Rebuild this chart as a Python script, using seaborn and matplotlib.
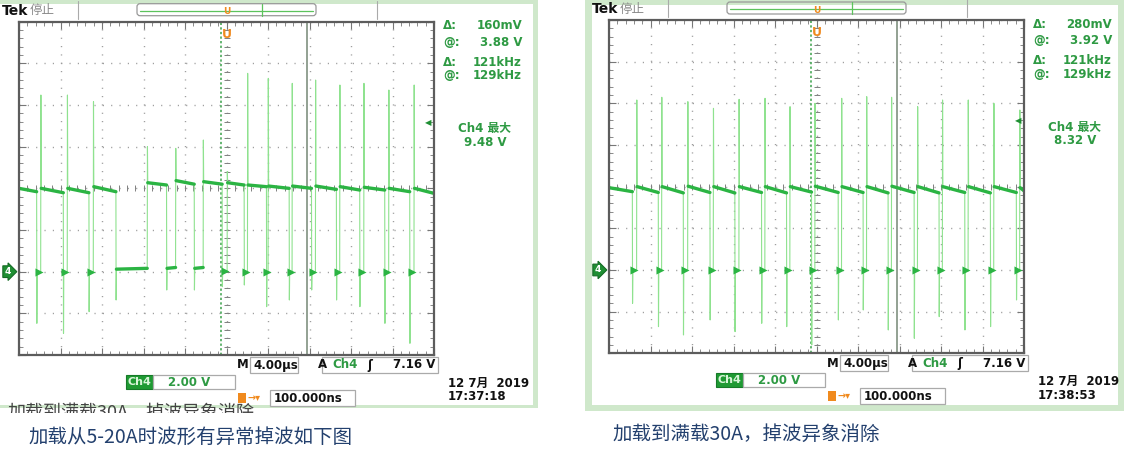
import numpy as np
import pandas as pd
import matplotlib
matplotlib.use('Agg')
import matplotlib.pyplot as plt
import matplotlib.patches as mpatches
import matplotlib.transforms as mtransforms
from matplotlib.ticker import MultipleLocator
import seaborn as sns

sns.set_theme(style='white')
plt.rcParams['font.family'] = ['DejaVu Sans', 'Noto Sans CJK SC']

# scope settings shown on both captures
TIME_DIV = '4.00µs'
VOLT_DIV = '2.00 V'
TRIG_LEVEL = 7.16          # V, trigger level arrow
TRIG_TEXT = '7.16 V'
TRIG_POS = '100.000ns'
DATE = '12 7月  2019'
CURSOR_A = -0.51           # us, dotted cursor
CURSOR_B = 7.75            # us, solid cursor (129kHz)

# left capture: 5-20A load, dropped pulses (time in us, volts above Ch4 ground)
L_FALL = [-18.30, -15.73, -13.26, -10.66, -5.78, -3.11, -0.42, 1.70,
          3.85, 6.04, 8.19, 10.59, 12.84, 15.25, 17.66]
L_RISE = [-17.91, -15.35, -12.84, -7.64, -4.91, -2.25, 0.06, 2.02,
          4.01, 6.32, 8.57, 10.91, 13.23, 15.63, 18.07]
L_TROUGH = [-2.48, -2.96, -1.92, -1.36, -0.88, -0.88, -0.72, -0.64,
            -1.68, -1.36, -0.88, -1.36, -1.68, -2.48, -3.44]
L_PEAK = [8.48, 8.48, 8.16, 6.00, 5.92, 6.32, 4.80, 9.52,
          9.28, 9.04, 9.20, 8.96, 9.04, 8.72, 8.96]
L_GND = [0, 0, 0, 0.12, 0.16, 0.16, 0.05, 0, 0, 0, 0, 0, 0, 0, 0]
L_HI0 = [4.00, 4.00, 4.00, 4.08, 4.27, 4.37, 4.32, 4.27, 4.16, 4.11,
         4.11, 4.11, 4.08, 4.05, 4.00, 4.00]
L_HI1 = [3.84, 3.79, 3.79, 3.84, 4.16, 4.20, 4.20, 4.16, 4.08, 4.00,
         4.00, 3.95, 3.92, 3.92, 3.84, 3.76]
L_READ = ['160mV', '3.88 V', '121kHz', '129kHz']
L_MAX = '9.48 V'
L_CLOCK = '17:37:18'
L_CAPTION = '加载从5-20A时波形有异常掉波如下图'

# right capture: full 30A load, regular switching
R_FALL = [-17.75, -15.25, -12.84, -10.27, -7.87, -5.30, -2.89, -0.48,
          2.09, 4.49, 6.90, 9.41, 11.81, 14.29, 16.76, 19.26]
R_RISE = [-17.34, -14.93, -12.42, -9.95, -7.48, -4.98, -2.57, -0.16,
          2.41, 4.82, 7.22, 9.73, 12.13, 14.61, 17.08, 19.58]
R_TROUGH = [-1.60, -2.72, -3.12, -2.40, -2.96, -2.56, -2.72, -3.60,
            -2.40, -1.92, -2.88, -3.28, -2.24, -2.88, -2.72, -1.44]
R_PEAK = [8.16, 8.29, 8.08, 7.76, 8.19, 8.24, 7.84, 8.00,
          8.24, 8.32, 8.29, 7.84, 8.16, 8.16, 8.00, 7.68]
R_GND = [0] * 16
R_HI0 = [3.95, 4.00, 4.00, 4.02, 4.00, 4.00, 4.00, 4.00, 4.02, 4.00,
         4.00, 4.02, 4.00, 4.00, 4.00, 4.00, 3.95]
R_HI1 = [3.76, 3.72, 3.70, 3.72, 3.70, 3.72, 3.70, 3.74, 3.72, 3.72,
         3.70, 3.72, 3.70, 3.72, 3.70, 3.72, 3.80]
R_READ = ['280mV', '3.92 V', '121kHz', '129kHz']
R_MAX = '8.32 V'
R_CLOCK = '17:38:53'
R_CAPTION = '加载到满载30A，掉波异象消除'

FW, FH = 1124, 455
BORDER = '#cfe8cb'
TRACE = '#2bb443'
SPIKE = '#8fe28f'
GRID = '#9a9a9a'
READ = '#2e9a43'
CAP = '#23406e'
CJK = ['Noto Sans CJK SC', 'DejaVu Sans']


def build_trace(fall, rise, trough, peak, gnd, hi0, hi1):
    t, v = [-20.0], [hi0[0]]
    for i in range(len(fall)):
        t += [fall[i], fall[i] + 0.02, fall[i] + 0.05, rise[i], rise[i] + 0.02, rise[i] + 0.05]
        v += [hi1[i], trough[i], gnd[i], gnd[i], peak[i], hi0[i + 1]]
    t.append(20.0)
    v.append(hi1[-1])
    thin = pd.DataFrame({'t': t, 'v': v})

    # dwell segments drawn bold: high level, and the long ground stretches
    rows = []
    starts = [-20.0] + [r + 0.05 for r in rise]
    ends = list(fall) + [20.0]
    for k, (a, b) in enumerate(zip(starts, ends)):
        rows += [(k, a, hi0[k]), (k, b, hi1[k])]
    blobs = []
    for i in range(len(fall)):
        if rise[i] - fall[i] > 0.6:
            rows += [(100 + i, fall[i] + 0.05, gnd[i]), (100 + i, rise[i], gnd[i] + 0.04)]
        else:
            blobs.append((0.5 * (fall[i] + rise[i]), gnd[i]))
    bold = pd.DataFrame(rows, columns=['seg', 't', 'v'])
    blob = pd.DataFrame(blobs, columns=['t', 'v'])
    return thin, bold, blob


def box(bg, x, y, w, h):
    bg.add_patch(mpatches.Rectangle((x, y), w, h, fc='white', ec='#aaaaaa', lw=0.9))


def draw_scope(fig, bg, gx, gy, data, read, vmax, clock):
    W, H = 415, 333.3
    ax = fig.add_axes([gx / FW, 1 - (gy + H) / FH, W / FW, H / FH], zorder=3)
    ax.set_facecolor('none')

    thin, bold, blob = build_trace(*data)
    ax.set_xlim(-20, 20)
    ax.set_ylim(-4, 12)
    ax.xaxis.set_major_locator(MultipleLocator(4))
    ax.xaxis.set_minor_locator(MultipleLocator(0.8))
    ax.yaxis.set_major_locator(MultipleLocator(2))
    ax.yaxis.set_minor_locator(MultipleLocator(0.4))
    ax.grid(True, which='major', color=GRID, lw=1.0, linestyle=(0, (0.8, 5.2)))
    ax.tick_params(which='both', direction='in', top=True, right=True, bottom=True, left=True,
                   labelbottom=False, labelleft=False, color='#777777')
    ax.tick_params(which='major', length=5, width=0.8)
    ax.tick_params(which='minor', length=3, width=0.6)
    for s in ax.spines.values():
        s.set_visible(True)
        s.set_color('#5c5c5c')
        s.set_linewidth(1.6)

    # centre cross with minor ticks
    mx = np.arange(-20, 20.01, 0.8)
    ax.plot(mx, np.full_like(mx, 4.0), ls='none', marker='|', ms=5, mew=0.7, color='#808080')
    my = np.arange(-4, 12.01, 0.4)
    ax.plot(np.zeros_like(my), my, ls='none', marker='_', ms=5, mew=0.7, color='#808080')

    ax.axvline(CURSOR_A, color='#3aa04a', lw=1.1, ls=(0, (1.5, 1.5)))
    ax.axvline(CURSOR_B, color='#8a9a8a', lw=1.3)

    sns.lineplot(data=thin, x='t', y='v', ax=ax, sort=False, estimator=None,
                 color=SPIKE, lw=0.8, legend=False)
    sns.lineplot(data=bold, x='t', y='v', units='seg', ax=ax, sort=False, estimator=None,
                 color=TRACE, lw=2.4, legend=False)
    sns.scatterplot(data=blob, x='t', y='v', ax=ax, marker='>', s=34, color=TRACE,
                    linewidth=0, legend=False, zorder=4)
    ax.set_xlabel('')
    ax.set_ylabel('')

    xa = mtransforms.blended_transform_factory(ax.transAxes, ax.transData)
    ya = mtransforms.blended_transform_factory(ax.transData, ax.transAxes)
    ax.text(-0.028, 0, '4', transform=xa, ha='center', va='center', color='white',
            fontsize=6.5, weight='bold', clip_on=False,
            bbox=dict(boxstyle='rarrow,pad=0.15', fc='#1f8f33', ec='#156b25', lw=0.8))
    ax.text(0.985, TRIG_LEVEL, '◀', transform=xa, ha='center', va='center',
            color='#1f8f33', fontsize=6)
    ax.text(0, 0.963, 'U', transform=ya, ha='center', va='center', color='#f08a1e',
            fontsize=9, weight='bold')
    ax.text(0, 1.03, 'U', transform=ya, ha='center', va='center', color='#f08a1e',
            fontsize=6.5, weight='bold', clip_on=False)

    # top status bar
    bg.text(gx - 17, gy - 11, 'Tek', fontsize=10, weight='bold', color='#111111', va='center')
    bg.text(gx + 11, gy - 11, '停止', fontsize=9, color='#8a8a8a', va='center')
    bg.plot([gx + 59] * 2, [gy - 21, gy - 3], color='#aaaaaa', lw=0.8)
    bg.plot([gx + 358] * 2, [gy - 21, gy - 3], color='#aaaaaa', lw=0.8)
    bg.add_patch(mpatches.FancyBboxPatch((gx + 118, gy - 18), 179, 12,
                                         boxstyle='round,pad=0,rounding_size=3',
                                         fc='none', ec='#999999', lw=0.9))
    bg.plot([gx + 121, gx + 294], [gy - 11, gy - 11], color='#5cc35c', lw=0.9)
    bg.plot([gx + 243] * 2, [gy - 18, gy - 6], color='#5cc35c', lw=0.9)

    # cursor readouts
    for y, lab, val in zip([gy + 4, gy + 21, gy + 41, gy + 54], ['Δ:', '@:', 'Δ:', '@:'], read):
        bg.text(gx + 424, y, lab, color=READ, fontsize=8.5, weight='bold', va='center')
        bg.text(gx + 503, y, val, color=READ, fontsize=8.5, weight='bold', va='center', ha='right')
    bg.text(gx + 466, gy + 107, 'Ch4 最大', color=READ, fontsize=8.5, weight='bold',
            va='center', ha='center')
    bg.text(gx + 466, gy + 121, vmax, color=READ, fontsize=8.5, weight='bold',
            va='center', ha='center')

    # bottom status bar
    gb = gy + H
    txt = dict(fontsize=8.5, weight='bold', va='center', color='#111111')
    bg.text(gx + 218, gb + 10, 'M', **txt)
    box(bg, gx + 231, gb + 2, 48, 16)
    bg.text(gx + 234, gb + 10, TIME_DIV, **txt)
    bg.text(gx + 299, gb + 10, 'A', **txt)
    box(bg, gx + 303, gb + 2, 116, 16)
    bg.text(gx + 313, gb + 10, 'Ch4', **{**txt, 'color': READ})
    bg.text(gx + 348, gb + 10, 'ʃ', **txt)
    bg.text(gx + 416, gb + 10, TRIG_TEXT, ha='right', **txt)
    bg.add_patch(mpatches.Rectangle((gx + 107, gb + 20), 27, 14, fc='#1f9a33', ec='#167a28', lw=0.8))
    bg.text(gx + 120.5, gb + 27, 'Ch4', ha='center', **{**txt, 'color': '#d8f5d8', 'fontsize': 8})
    box(bg, gx + 134, gb + 20, 82, 14)
    bg.text(gx + 149, gb + 27, VOLT_DIV, **{**txt, 'color': READ})
    bg.add_patch(mpatches.Rectangle((gx + 219, gb + 38), 8, 10, fc='#f08a1e', ec='none'))
    bg.text(gx + 228, gb + 43, '→▾', **{**txt, 'color': '#f08a1e', 'fontsize': 7})
    box(bg, gx + 251, gb + 35, 85, 16)
    bg.text(gx + 255, gb + 43, TRIG_POS, **txt)
    bg.text(gx + 429, gb + 28, DATE, **txt)
    bg.text(gx + 429, gb + 42, clock, **txt)
    return ax


fig = plt.figure(figsize=(FW / 100, FH / 100), dpi=100)
bg = fig.add_axes([0, 0, 1, 1], zorder=0)
bg.set_xlim(0, FW)
bg.set_ylim(FH, 0)
bg.axis('off')

# text line cut off under the left capture (only its top shows)
bg.text(8, 404, R_CAPTION, fontsize=13, color='#444444', va='top', family=CJK, zorder=1)
bg.add_patch(mpatches.Rectangle((0, 412.5), 560, 14, fc='white', ec='none', zorder=2))

# screenshot frames
bg.add_patch(mpatches.Rectangle((-5, 0), 543, 408, fc=BORDER, ec='none', zorder=0.5))
bg.add_patch(mpatches.Rectangle((0, 4), 533, 401, fc='white', ec='none', zorder=0.6))
bg.add_patch(mpatches.Rectangle((585, 0), 545, 411, fc=BORDER, ec='none', zorder=0.5))
bg.add_patch(mpatches.Rectangle((592, 5), 526, 400, fc='white', ec='none', zorder=0.6))

draw_scope(fig, bg, 19, 21.7, (L_FALL, L_RISE, L_TROUGH, L_PEAK, L_GND, L_HI0, L_HI1),
           L_READ, L_MAX, L_CLOCK)
draw_scope(fig, bg, 609, 20, (R_FALL, R_RISE, R_TROUGH, R_PEAK, R_GND, R_HI0, R_HI1),
           R_READ, R_MAX, R_CLOCK)

bg.text(28, 437, L_CAPTION, fontsize=14, color=CAP, va='center', family=CJK, zorder=3)
bg.text(612, 434, R_CAPTION, fontsize=14, color=CAP, va='center', family=CJK, zorder=3)

fig.savefig('out.png', dpi=100)
